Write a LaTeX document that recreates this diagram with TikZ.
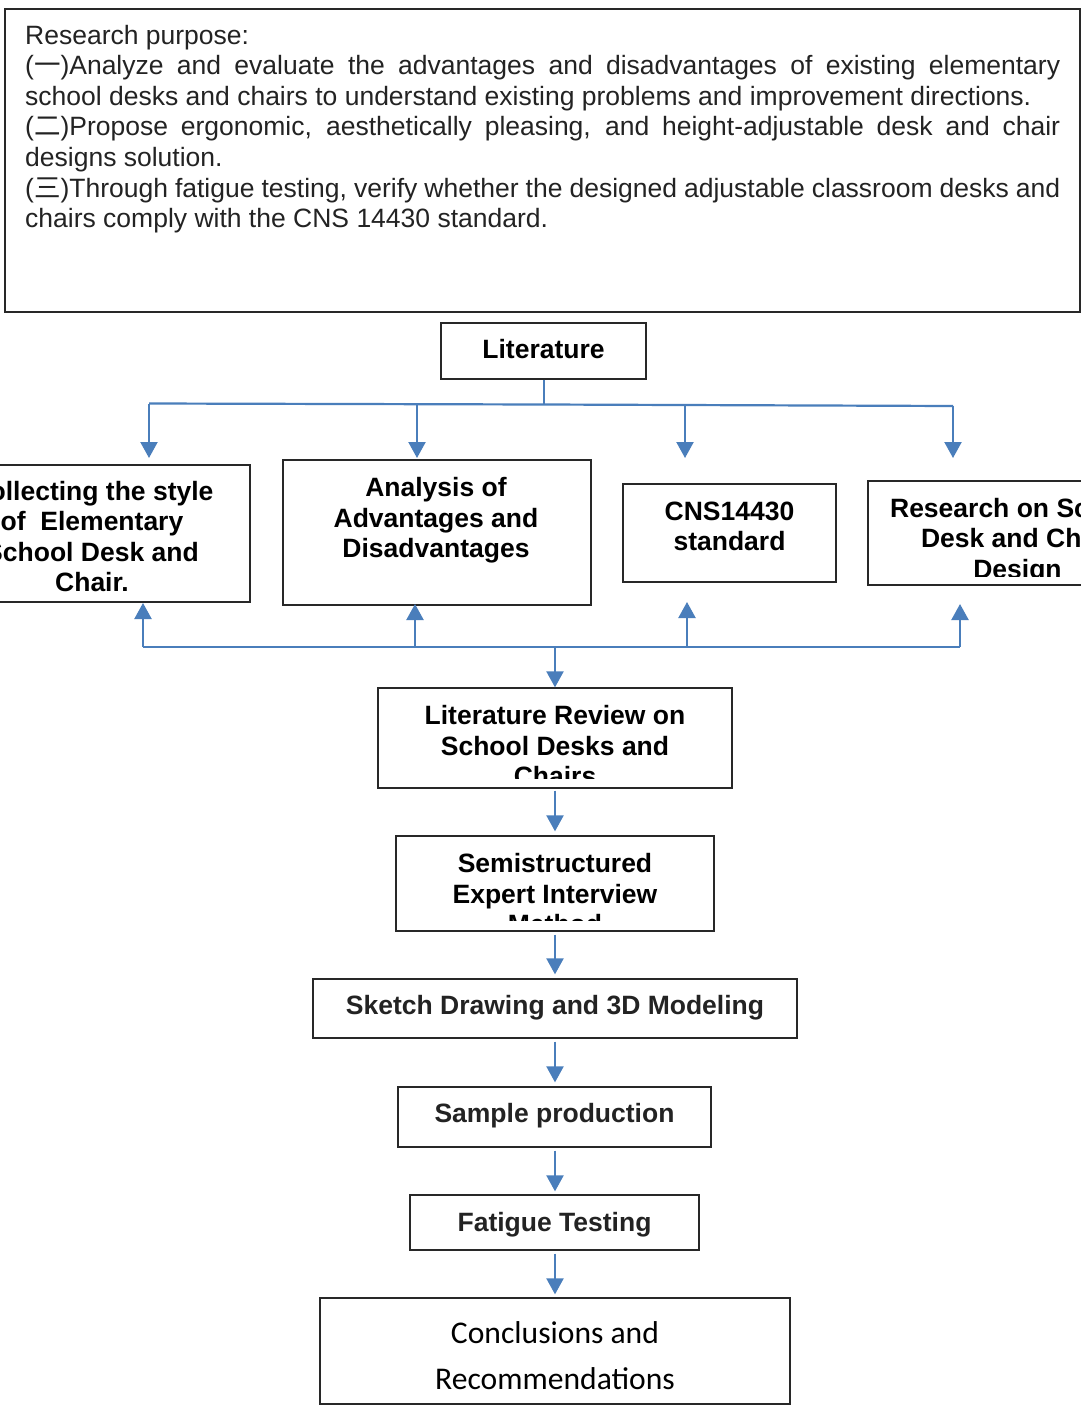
\documentclass[tikz,border=0pt]{standalone}
\usepackage{fontspec}
\setmainfont{Liberation Sans}
\newfontfamily\cjk{Noto Sans CJK SC}
\newfontfamily\calib{Carlito}
\usetikzlibrary{arrows.meta,fit}
\definecolor{ablue}{RGB}{74,126,187}
\definecolor{ink}{RGB}{35,35,35}
\definecolor{frame}{RGB}{40,40,40}
\begin{document}
\begin{tikzpicture}[x=1pt,y=-1pt,
  box/.style={draw=frame, line width=1.3pt, inner sep=0pt},
  conn/.style={draw=ablue, line width=2.2pt},
  arr/.style={conn, -{Triangle[width=17pt,length=16pt]}},
  btxt/.style={font=\fontsize{26.5}{30.5}\selectfont\bfseries, text=black, align=center, inner sep=0pt},
]
\useasboundingbox (0,0) rectangle (1081,1405);
\fill[white] (0,0) rectangle (1081,1405);

% research purpose box
\node[box, fit={(5,9) (1080,312)}] (top) {};
\node[anchor=north west, inner sep=0pt, align=left, text=ink,
      font=\fontsize{26.5}{30.6}\selectfont] (purpose) at (25,22.5) {%
\strut Research purpose:\\
\strut\makebox[1035pt][s]{({\cjk 一})Analyze and evaluate the advantages and disadvantages of existing elementary}\\
\strut school desks and chairs to understand existing problems and improvement directions.\\
\strut\makebox[1035pt][s]{({\cjk 二})Propose ergonomic, aesthetically pleasing, and height-adjustable desk and chair}\\
\strut designs solution.\\
\strut\makebox[1035pt][s]{({\cjk 三})Through fatigue testing, verify whether the designed adjustable classroom desks and}\\
\strut chairs comply with the CNS 14430 standard.};

% boxes
\node[box, fit={(441,323) (646,379)}] (lit) {};
\node[btxt] (tlit) at (543.5,352.4) {\strut Literature};

\node[box, fit={(-66,465) (250,602)}] (b1) {};
\node[btxt] (tb1) at (92,539.9) {\strut Collecting the style\\\strut of\ \ Elementary\\\strut School Desk and\\\strut Chair.};

\node[box, fit={(283,460) (591,605)}] (b2) {};
\node[btxt] (tb2) at (436,520.9) {\strut Analysis of\\\strut Advantages and\\\strut Disadvantages};

\node[box, fit={(623,484) (836,582)}] (b3) {};
\node[btxt] (tb3) at (729.5,529.4) {\strut CNS14430\\\strut standard};

\node[box, fit={(868,481) (1167,585)}] (b4) {};
\begin{scope}
\clip (868,481) rectangle (1167,576);
\node[btxt] (tb4) at (1017.5,541.4) {\strut Research on School\\\strut Desk and Chair\\\strut Design};
\end{scope}

\node[box, fit={(378,688) (732,788)}] (lr) {};
\begin{scope}
\clip (378,688) rectangle (732,778.5);
\node[btxt] (tlr) at (555,748.9) {\strut Literature Review on\\\strut School Desks and\\\strut Chairs};
\end{scope}

\node[box, fit={(396,836) (714,931)}] (ss) {};
\begin{scope}
\clip (396,836) rectangle (714,920);
\node[btxt] (tss) at (555,896.9) {\strut Semistructured\\\strut Expert Interview\\\strut Method};
\end{scope}

\node[box, fit={(313,979) (797,1038)}] (sk) {};
\node[btxt, text=ink] (tsk) at (555,1008.4) {\strut Sketch Drawing and 3D Modeling};

\node[box, fit={(398,1087) (711,1147)}] (sp) {};
\node[btxt, text=ink] (tsp) at (554.5,1116.4) {\strut Sample production};

\node[box, fit={(410,1195) (699,1250)}] (ft) {};
\node[btxt, text=ink] (tft) at (554.5,1225.4) {\strut Fatigue Testing};

\node[box, fit={(320,1298) (790,1404)}] (cc) {};
\node[font=\calib\fontsize{31.6}{46}\selectfont, align=center, inner sep=0pt, text=black] (tcc) at (555,1356.8) {\strut Conclusions and\\\strut Recommendations};

% top distribution
\coordinate (j0) at (544,404.5);
\coordinate (h1) at (149,403.5);
\coordinate (h2) at (417,404);
\coordinate (h3) at (685,405);
\coordinate (h4) at (953,406);
\coordinate (d1) at (149,458);
\coordinate (d2) at (417,458);
\coordinate (d3) at (685,458);
\coordinate (d4) at (953,458);
\draw[conn] (lit.south -| j0) -- (j0);
\draw[conn] (h1) -- (j0) -- (h4);
\draw[arr] (h1) -- (d1);
\draw[arr] (h2) -- (d2);
\draw[arr] (h3) -- (d3);
\draw[arr] (h4) -- (d4);

% bottom collection
\coordinate (g1) at (143,647);
\coordinate (g2) at (415,647);
\coordinate (g3) at (687,647);
\coordinate (g4) at (960,647);
\coordinate (gc) at (555,647);
\coordinate (u1) at (143,603);
\coordinate (u2) at (415,604);
\coordinate (u3) at (687,602);
\coordinate (u4) at (960,604);
\draw[conn] (g1) -- (g4);
\draw[arr] (g1) -- (u1);
\draw[arr] (g2) -- (u2);
\draw[arr] (g3) -- (u3);
\draw[arr] (g4) -- (u4);
\draw[arr] (gc) -- (lr.north);

% chain
\draw[arr] ([yshift=-2pt]lr.south) -- ([yshift=4pt]ss.north);
\draw[arr] ([yshift=-3pt]ss.south) -- ([yshift=4pt]sk.north);
\draw[arr] ([yshift=-3pt]sk.south) -- ([yshift=4pt]sp.north -| sk.north);
\draw[arr] ([yshift=-3pt]sp.south -| sk.south) -- ([yshift=3pt]ft.north -| sk.north);
\draw[arr] ([yshift=-3pt]ft.south -| sk.south) -- ([yshift=3pt]cc.north);
\end{tikzpicture}
\end{document}
